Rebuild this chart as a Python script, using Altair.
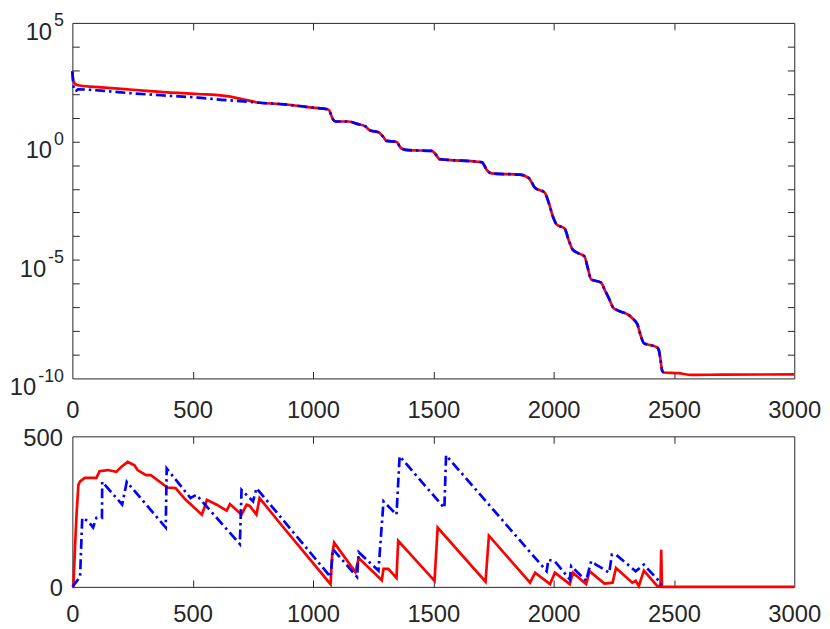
import altair as alt
import pandas as pd

# ---------------- top panel (log scale) ----------------
top_red_head_it = [0, 4, 12, 30, 120, 250, 395, 520, 641, 700, 778]
top_red_head_val = [955, 355, 263, 229, 191, 151, 117, 100, 81.3, 63.1, 42.7]

top_blue_head_it = [0, 6, 12, 25, 120, 250, 395, 520, 641, 700, 778]
top_blue_head_val = [891, 178, 132, 158, 138, 107, 85.1, 70.8, 55.0, 50.1, 42.7]

top_tail_it = [860, 943, 998, 1060, 1068, 1074, 1082, 1094, 1149, 1183, 1218, 1230,
               1238, 1272, 1285, 1293, 1306, 1347, 1354, 1361, 1375, 1396, 1492, 1505,
               1512, 1526, 1560, 1703, 1710, 1722, 1735, 1753, 1860, 1896, 1910, 1922,
               1963, 1980, 1998, 2012, 2046, 2062, 2080, 2101, 2128, 2142, 2156, 2197,
               2214, 2231, 2248, 2266, 2313, 2331, 2348, 2362, 2375, 2430, 2437, 2444,
               2451, 2457]
top_tail_val = [38.0, 31.2, 26.5, 22.8, 20.0, 14.1, 8.91, 6.92, 6.92, 5.50, 4.27, 3.31,
                2.88, 2.45, 1.86, 1.51, 1.05, 0.955, 0.794, 0.589, 0.468, 0.427, 0.398, 0.331,
                0.263, 0.178, 0.166, 0.132, 0.105, 0.0631, 0.0479, 0.0437, 0.0398, 0.0288, 0.0178, 0.0112,
                0.00692, 0.00251, 6.31e-4, 3.16e-4, 2.09e-4, 7.08e-5, 2.63e-5, 1.95e-5, 1.41e-5, 4.47e-6, 1.51e-6, 1.10e-6,
                5.01e-7, 2.24e-7, 9.55e-8, 7.41e-8, 4.68e-8, 3.16e-8, 1.91e-8, 6.31e-9, 3.09e-9, 2.04e-9, 1.58e-9, 6.31e-10,
                2.09e-10, 1.78e-10]

top_red_end_it = [2518, 2574, 2700, 3000]
top_red_end_val = [1.66e-10, 1.41e-10, 1.45e-10, 1.48e-10]

# ---------------- bottom panel (linear) ----------------
bot_red_it = [0, 4, 12, 18, 25, 32, 52, 100, 113, 148, 182, 203, 230, 258, 271, 306, 326,
              395, 429, 470, 538, 548, 559, 600, 641, 655, 703, 724, 737, 765, 778, 861,
              1073, 1080, 1088, 1176, 1190, 1286, 1293, 1313, 1347, 1354, 1505, 1518, 1717,
              1731, 1902, 1923, 1985, 2005, 2067, 2080, 2135, 2149, 2211, 2245, 2259, 2327,
              2341, 2354, 2375, 2430, 2444, 2447, 2450, 3000]
bot_red_val = [0, 0, 150, 250, 339, 350, 362, 362, 384, 388, 382, 398, 415, 404, 388, 371, 371,
               330, 328, 290, 240, 262, 289, 273, 253, 275, 240, 273, 269, 240, 295, 213,
               9, 110, 147, 49, 96, 22, 60, 60, 30, 153, 20, 197, 17,
               170, 14, 47, 9, 47, 9, 47, 9, 52, 11, 14, 63, 14,
               20, 3, 54, 3, 3, 123, 0, 0]

bot_blue_it = [0, 32, 41, 66, 86, 100, 123, 124, 207, 226, 388, 392, 491, 515, 696, 703,
               751, 765, 1073, 1083, 1183, 1190, 1272, 1279, 1293, 1347, 1360, 1546, 1553,
               1971, 1978, 2005, 2067, 2073, 2135, 2156, 2176, 2231, 2242, 2259, 2341, 2375,
               2444, 2447]
bot_blue_val = [0, 33, 229, 218, 197, 229, 229, 349, 273, 349, 197, 393, 295, 306, 142, 322,
                284, 328, 33, 125, 33, 115, 54, 131, 284, 240, 434, 262, 437,
                52, 90, 85, 25, 69, 20, 85, 74, 47, 107, 107, 52, 74,
                14, 5]

x_ticks = [0, 500, 1000, 1500, 2000, 2500, 3000]
x_inner_ticks = [500, 1000, 1500, 2000, 2500]
top_label_vals = [1e5, 1, 1e-5, 1e-10]
top_tick_vals = [1e4, 1e3, 1e2, 1e1, 1, 1e-1, 1e-2, 1e-3, 1e-4, 1e-5, 1e-6, 1e-7, 1e-8, 1e-9]
bot_label_vals = [0, 500]

W = 729
H1 = 359
H2 = 152
FONT = "Liberation Sans"
AXC = "#262626"
RED = "#ff0000"
BLUE = "#0000ff"
BASE_FS = 24
EXP_FS = 18

top_red = pd.DataFrame({"it": top_red_head_it + top_tail_it + top_red_end_it,
                        "v": top_red_head_val + top_tail_val + top_red_end_val})
top_blue = pd.DataFrame({"it": top_blue_head_it + top_tail_it,
                         "v": top_blue_head_val + top_tail_val})
bot_red = pd.DataFrame({"it": bot_red_it, "v": bot_red_val})
bot_blue = pd.DataFrame({"it": bot_blue_it, "v": bot_blue_val})

exp_expr = "''+round(log(datum.value)/LN10)"

xs = alt.Scale(domain=[0, 3000], nice=False, zero=False)


def x_main(pad):
    return alt.Axis(orient="bottom", values=x_ticks, tickSize=0, domain=False,
                    labelPadding=pad, labelFlush=False, grid=False, title=None, format="d")


def x_inner(orient, H):
    return alt.Axis(orient=orient, offset=-H, values=x_inner_ticks, labels=False,
                    domain=False, tickSize=7, grid=False, title=None)


def y_inner(orient, vals):
    return alt.Axis(orient=orient, offset=-W, values=vals, labels=False,
                    domain=False, tickSize=7, grid=False, title=None)


def base_axis(vals, pad):
    # the "10" part of the power-of-ten labels
    return alt.Axis(orient="left", values=vals, tickSize=0, domain=False,
                    labelPadding=pad, labelOffset=16.5, labelBaseline="alphabetic",
                    labelFlush=False, labelExpr="'10'", labelFontSize=BASE_FS,
                    grid=False, title=None)


# the exponent part, drawn as a smaller raised label
exp_axis = alt.Axis(orient="left", values=top_label_vals, tickSize=0, domain=False,
                    labelPadding=9, labelOffset=3, labelBaseline="alphabetic",
                    labelFlush=False, labelExpr=exp_expr, labelFontSize=EXP_FS,
                    grid=False, title=None)

ylog = alt.Scale(type="log", domain=[1e-10, 1e5], nice=False)


def line(df, color, dash=None, opacity=1, interp="linear"):
    kw = dict(color=color, strokeWidth=2.7, interpolate=interp, opacity=opacity)
    if dash:
        kw["strokeDash"] = dash
    return alt.Chart(df).mark_line(**kw)


DASH = [10, 4, 2.5, 4]

t_red = line(top_red, RED, interp="monotone").encode(
    x=alt.X("it:Q", scale=xs, axis=x_main(20)),
    y=alt.Y("v:Q", scale=ylog, axis=base_axis([1e5, 1], 21)), order="it:Q")
t_blue = line(top_blue, BLUE, DASH, interp="monotone").encode(
    x=alt.X("it:Q", scale=xs, axis=x_inner("top", H1)),
    y=alt.Y("v:Q", scale=ylog, axis=y_inner("right", top_tick_vals)), order="it:Q")
t_g1 = line(top_red, RED, opacity=0, interp="monotone").encode(
    x=alt.X("it:Q", scale=xs, axis=x_inner("bottom", H1)),
    y=alt.Y("v:Q", scale=ylog, axis=y_inner("left", top_tick_vals)), order="it:Q")
t_g2 = line(top_red, RED, opacity=0, interp="monotone").encode(
    x=alt.X("it:Q", scale=xs, axis=None),
    y=alt.Y("v:Q", scale=ylog, axis=base_axis([1e-5], 27)), order="it:Q")
t_g3 = line(top_red, RED, opacity=0, interp="monotone").encode(
    x=alt.X("it:Q", scale=xs, axis=None),
    y=alt.Y("v:Q", scale=ylog, axis=base_axis([1e-10], 37)), order="it:Q")
t_g4 = line(top_red, RED, opacity=0, interp="monotone").encode(
    x=alt.X("it:Q", scale=xs, axis=None),
    y=alt.Y("v:Q", scale=ylog, axis=exp_axis), order="it:Q")

top = alt.layer(t_red, t_blue, t_g1, t_g2, t_g3, t_g4).resolve_axis(
    x="independent", y="independent").properties(width=W, height=H1)

ylin = alt.Scale(domain=[0, 500], nice=False, zero=False)
b_yaxis = alt.Axis(orient="left", values=bot_label_vals, tickSize=0, domain=False,
                   labelPadding=10, labelOffset=2, labelFlush=False, format="d",
                   grid=False, title=None)

b_red = line(bot_red, RED).encode(
    x=alt.X("it:Q", scale=xs, axis=x_main(16)),
    y=alt.Y("v:Q", scale=ylin, axis=b_yaxis), order="it:Q")
b_blue = line(bot_blue, BLUE, DASH).encode(
    x=alt.X("it:Q", scale=xs, axis=x_inner("top", H2)),
    y=alt.Y("v:Q", scale=ylin, axis=None), order="it:Q")
b_g1 = line(bot_red, RED, opacity=0).encode(
    x=alt.X("it:Q", scale=xs, axis=x_inner("bottom", H2)),
    y=alt.Y("v:Q", scale=ylin, axis=None), order="it:Q")

bottom = alt.layer(b_red, b_blue, b_g1).resolve_axis(
    x="independent", y="independent").properties(width=W, height=H2)

chart = alt.vconcat(top, bottom, spacing=58.5, bounds="flush").properties(
    padding={"left": 0, "top": 0, "right": 0, "bottom": 0},
    background="white",
).configure_view(stroke=AXC, strokeWidth=1).configure_axis(
    labelFont=FONT, labelFontSize=24, labelColor=AXC, tickColor=AXC, tickWidth=1
)

chart.save("out.html", embed_options={"renderer": "svg", "actions": False})
